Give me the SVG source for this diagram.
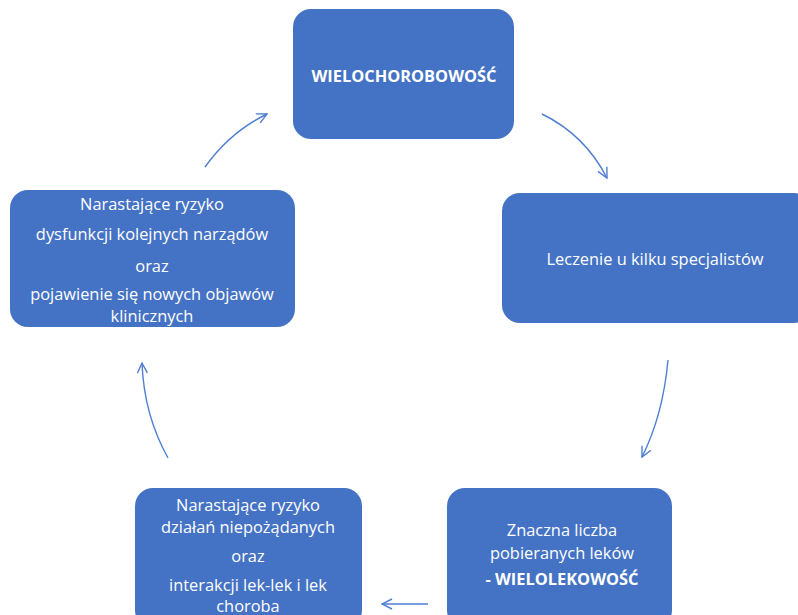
<svg xmlns="http://www.w3.org/2000/svg" width="798" height="615" viewBox="0 0 798 615">
<style>
.box{fill:#4472C4;}
.t{fill:#ffffff;font-family:"Open Sans","Noto Sans",sans-serif;font-size:16.4px;text-anchor:middle;dominant-baseline:central;}
.b{font-weight:bold;}
.c{fill:none;stroke:#4F7FD2;stroke-width:1.4;}
</style>
<defs>
<marker id="ah" viewBox="0 0 12 12" refX="11" refY="6" markerWidth="12" markerHeight="12" markerUnits="userSpaceOnUse" orient="auto">
<path d="M1,1 L11,6 L1,11" fill="none" stroke="#4F7FD2" stroke-width="1.4"/>
</marker>
</defs>
<rect width="798" height="615" fill="#ffffff"/>
<g id="connectors">
<path class="c" d="M205,167 Q230,132 267,114" marker-end="url(#ah)"/>
<path class="c" d="M542,114 Q585,135 607,178" marker-end="url(#ah)"/>
<path class="c" d="M668,360 Q663,415 642,457" marker-end="url(#ah)"/>
<path class="c" d="M428,604 L382,604" marker-end="url(#ah)"/>
<path class="c" d="M168,458 Q144,415 142,363" marker-end="url(#ah)"/>
</g>
<g id="node-wielochorobowosc">
<rect class="box" x="293" y="9" width="221" height="130" rx="18"/>
<text class="t b" x="404" y="75">WIELOCHOROBOWOŚĆ</text>
</g>
<g id="node-leczenie">
<rect class="box" x="502" y="193" width="310" height="130" rx="18"/>
<text class="t" x="655" y="258">Leczenie u kilku specjalistów</text>
</g>
<g id="node-wielolekowosc">
<rect class="box" x="447" y="488" width="225" height="140" rx="18"/>
<text class="t" x="562" y="529">Znaczna liczba</text>
<text class="t" x="562" y="552">pobieranych leków</text>
<text class="t b" x="562" y="578">- WIELOLEKOWOŚĆ</text>
</g>
<g id="node-interakcje">
<rect class="box" x="135" y="488" width="227" height="140" rx="18"/>
<text class="t" x="248" y="504">Narastające ryzyko</text>
<text class="t" x="248" y="526">działań niepożądanych</text>
<text class="t" x="248" y="555">oraz</text>
<text class="t" x="248" y="584">interakcji lek-lek i lek</text>
<text class="t" x="248" y="605">choroba</text>
</g>
<g id="node-dysfunkcje">
<rect class="box" x="10" y="190" width="285" height="137" rx="18"/>
<text class="t" x="152" y="203">Narastające ryzyko</text>
<text class="t" x="152" y="233">dysfunkcji kolejnych narządów</text>
<text class="t" x="152" y="265">oraz</text>
<text class="t" x="152" y="293">pojawienie się nowych objawów</text>
<text class="t" x="152" y="315">klinicznych</text>
</g>
</svg>
